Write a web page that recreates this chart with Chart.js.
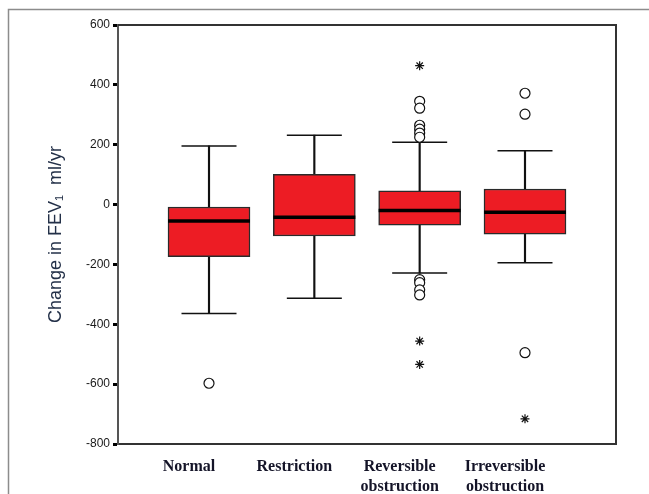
<!DOCTYPE html>
<html>
<head>
<meta charset="utf-8">
<script src="https://cdn.jsdelivr.net/npm/chart.js@4.4.1/dist/chart.umd.min.js"></script>
<style>
    body { margin: 0; background: #fff; }
</style>
</head>
<body>
<canvas id="boxFev" width="649" height="494"></canvas>
<script>
// dados (ml/ano)
const groups = ['Normal', 'Restriction', ['Reversible', 'obstruction'], ['Irreversible', 'obstruction']];
const whiskerLow = [-364, -313, -229, -194];
const q1 = [-174, -105, -69, -99];
const median = [-55, -42, -20, -26];
const q3 = [-8, 101, 46, 52];
const whiskerHigh = [196, 232, 208, 180];
const circleOutliers = [[-597], [], [345, 322, 265, 252, 239, 225, -251, -261, -285, -302], [372, 302, -495]];
const starOutliers = [[], [], [464, -456, -534], [-716]];
const yTicks = [-800, -600, -400, -200, 0, 200, 400, 600];

const pos = groups.map((g, i) => i + 1);

function flat(list) {
    let out = [];
    list.forEach((vals, i) => vals.forEach(v => out.push({ x: pos[i], y: v })));
    return out;
}

// moldura do grafico e borda da figura
const frames = {
    id: 'frames',
    beforeDraw(chart) {
        const c = chart.ctx;
        c.save();
        c.strokeStyle = '#8c8c8c';
        c.lineWidth = 1.5;
        c.beginPath();
        c.moveTo(8.5, chart.height);
        c.lineTo(8.5, 9.5);
        c.lineTo(chart.width, 9.5);
        c.stroke();
        c.restore();
    },
    afterDraw(chart) {
        const a = chart.chartArea;
        const c = chart.ctx;
        c.save();
        c.strokeStyle = '#333';
        c.lineWidth = 2;
        c.beginPath();
        c.moveTo(a.left, a.top);
        c.lineTo(a.right, a.top);
        c.lineTo(a.right, a.bottom);
        c.stroke();
        c.restore();
    }
};

const dataFev = {
    datasets: [{
        type: 'bar',
        label: 'box',
        data: pos.map((x, i) => ({ x: x, y: [q1[i], q3[i]] })),
        backgroundColor: '#ED1C24',
        borderColor: '#2a2a2a',
        borderWidth: 1.5,
        borderSkipped: false,
        barThickness: 82,
        grouped: false,
        order: 2
    }, {
        type: 'bar',
        label: 'upper whisker',
        data: pos.map((x, i) => ({ x: x, y: [q3[i], whiskerHigh[i]] })),
        backgroundColor: '#111',
        borderWidth: 0,
        barThickness: 1.5,
        grouped: false,
        order: 3
    }, {
        type: 'bar',
        label: 'lower whisker',
        data: pos.map((x, i) => ({ x: x, y: [whiskerLow[i], q1[i]] })),
        backgroundColor: '#111',
        borderWidth: 0,
        barThickness: 1.5,
        grouped: false,
        order: 3
    }, {
        type: 'scatter',
        label: 'caps',
        data: pos.map((x, i) => ({ x: x, y: whiskerHigh[i] })).concat(pos.map((x, i) => ({ x: x, y: whiskerLow[i] }))),
        pointStyle: 'line',
        pointRadius: 27.5,
        borderColor: '#111',
        pointBorderWidth: 1.5,
        order: 3
    }, {
        type: 'scatter',
        label: 'median',
        data: pos.map((x, i) => ({ x: x, y: median[i] })),
        pointStyle: 'line',
        pointRadius: 41,
        borderColor: '#000',
        pointBorderWidth: 3.5,
        order: 1
    }, {
        type: 'scatter',
        label: 'outliers',
        data: flat(circleOutliers),
        pointStyle: 'circle',
        pointRadius: 5,
        backgroundColor: '#fff',
        borderColor: '#111',
        pointBorderWidth: 1.2,
        order: 0
    }, {
        type: 'scatter',
        label: 'extremes',
        data: flat(starOutliers),
        pointStyle: 'star',
        pointRadius: 4.5,
        borderColor: '#111',
        pointBorderWidth: 1.2,
        order: 0
    }]
};

const configFev = {
    data: dataFev,
    options: {
        responsive: false,
        animation: false,
        layout: {
            autoPadding: false,
            padding: { top: 25, right: 33, left: 0, bottom: 0 }
        },
        scales: {
            x: {
                type: 'linear',
                offset: false,
                min: 0.136,
                max: 4.864,
                afterBuildTicks: (scale) => {
                    scale.ticks = pos.map(v => ({ value: v }));
                },
                afterFit: (scale) => {
                    scale.height = 50;
                },
                grid: { drawOnChartArea: false, drawTicks: false },
                border: { color: '#333', width: 2 },
                ticks: {
                    callback: (v, i) => groups[i],
                    color: '#141428',
                    labelOffset: -20,
                    padding: 13,
                    maxRotation: 0,
                    font: {
                        size: 16,
                        weight: 'bold',
                        family: "'Liberation Serif', 'Times New Roman', serif",
                        lineHeight: 1.25
                    }
                }
            },
            y: {
                min: -800,
                max: 600,
                afterBuildTicks: (scale) => {
                    scale.ticks = yTicks.map(v => ({ value: v }));
                },
                afterFit: (scale) => {
                    scale.width = 118;
                },
                grid: {
                    drawOnChartArea: false,
                    drawTicks: true,
                    tickLength: 5,
                    tickWidth: 3,
                    tickColor: '#000'
                },
                border: { color: '#555', width: 2 },
                ticks: {
                    color: '#1a1a1a',
                    padding: 3,
                    font: {
                        size: 12,
                        family: "'Liberation Sans', Arial, sans-serif"
                    }
                },
                title: {
                    display: true,
                    text: 'Change in FEV\u2081  ml/yr',
                    color: '#233048',
                    padding: { top: 45, bottom: 0 },
                    font: {
                        size: 18,
                        family: "'Liberation Sans', Arial, sans-serif"
                    }
                }
            }
        },
        plugins: {
            legend: { display: false },
            tooltip: { enabled: false }
        }
    },
    plugins: [frames]
};

new Chart(document.getElementById('boxFev').getContext('2d'), configFev);
</script>
</body>
</html>
